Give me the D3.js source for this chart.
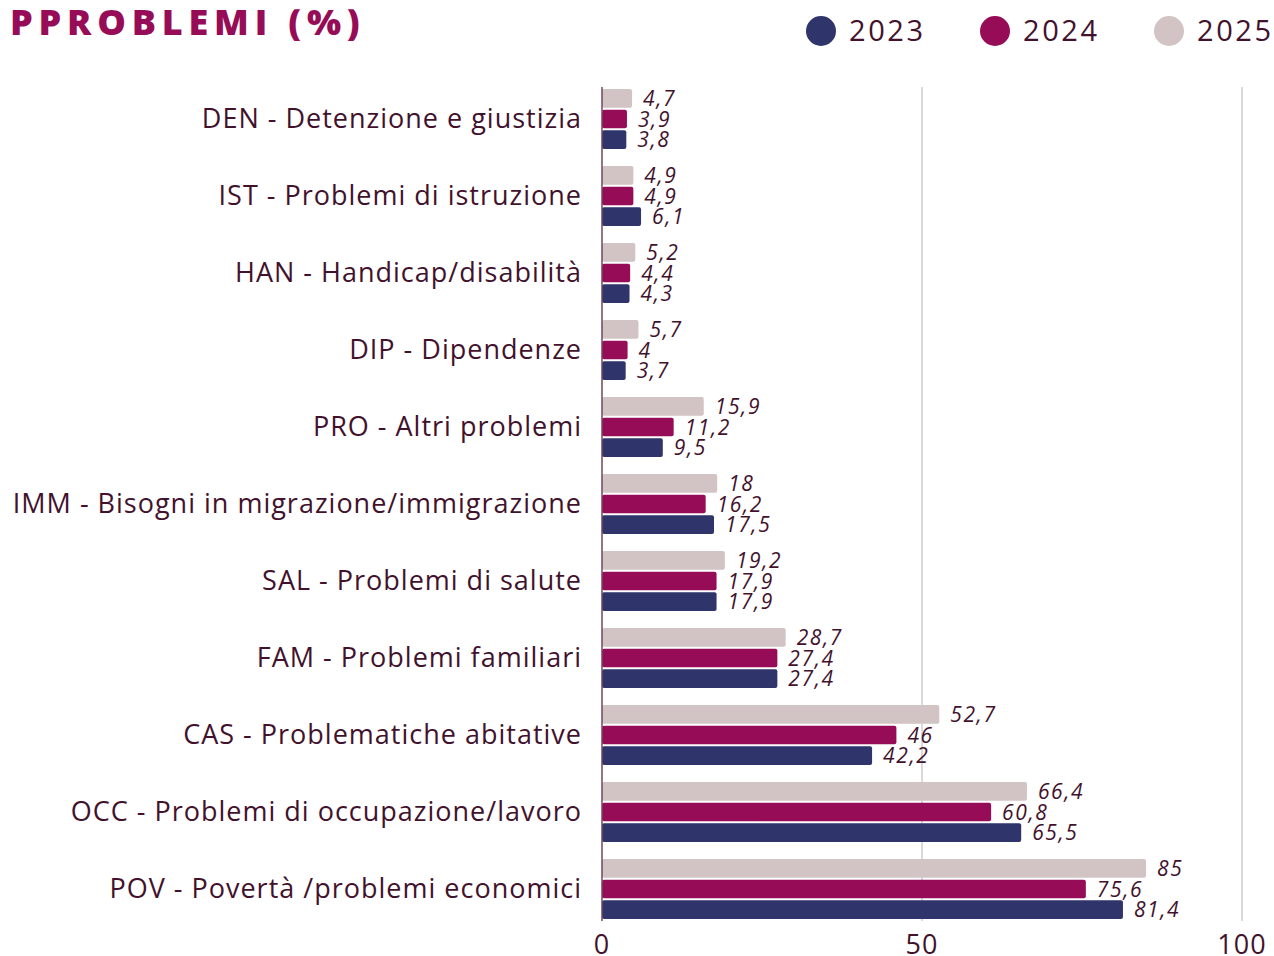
<!DOCTYPE html>
<html>
<head>
<meta charset="utf-8">
<script src="https://cdn.jsdelivr.net/npm/d3@7"></script>
<style>
  body { margin: 0; background: #fff; }
  svg { display: block; font-family: "Open Sans", sans-serif; }
</style>
</head>
<body>
<div id="chart"></div>
<script>
// Categories from top to bottom
const categories = [
  "DEN - Detenzione e giustizia",
  "IST - Problemi di istruzione",
  "HAN - Handicap/disabilità",
  "DIP - Dipendenze",
  "PRO - Altri problemi",
  "IMM - Bisogni in migrazione/immigrazione",
  "SAL - Problemi di salute",
  "FAM - Problemi familiari",
  "CAS - Problematiche abitative",
  "OCC - Problemi di occupazione/lavoro",
  "POV - Povertà /problemi economici"
];
const years = ["2023", "2024", "2025"];
const values2023 = [3.8, 6.1, 4.3, 3.7, 9.5, 17.5, 17.9, 27.4, 42.2, 65.5, 81.4];
const values2024 = [3.9, 4.9, 4.4, 4, 11.2, 16.2, 17.9, 27.4, 46, 60.8, 75.6];
const values2025 = [4.7, 4.9, 5.2, 5.7, 15.9, 18, 19.2, 28.7, 52.7, 66.4, 85];
const xTicks = [0, 50, 100];

const colors = { "2023": "#2f356b", "2024": "#970c57", "2025": "#d2c4c4" };
const textColor = "#42122d";

const width = 1274, height = 956;
const svg = d3.select("#chart").append("svg")
  .attr("width", width).attr("height", height);

const x = d3.scaleLinear().domain([0, 100]).range([602, 1242]);
const y = d3.scaleBand().domain(categories).range([87, 921])
  .paddingInner(0.169).paddingOuter(0);
const ySub = d3.scaleBand().domain(["2025", "2024", "2023"])
  .range([0, y.bandwidth()]).padding(0.1);

const seriesByYear = { "2023": values2023, "2024": values2024, "2025": values2025 };
const rows = [];
categories.forEach((c, i) => {
  years.forEach(yr => rows.push({ cat: c, year: yr, value: seriesByYear[yr][i] }));
});

// gridlines
svg.append("g").selectAll("line")
  .data(xTicks.filter(t => t > 0))
  .enter().append("line")
  .attr("x1", d => x(d)).attr("x2", d => x(d))
  .attr("y1", 87).attr("y2", 921)
  .attr("stroke", "#d0cbcd").attr("stroke-width", 1.5);

// bars
svg.append("g").selectAll("rect")
  .data(rows)
  .enter().append("rect")
  .attr("x", x(0))
  .attr("y", d => y(d.cat) + ySub(d.year))
  .attr("width", d => x(d.value) - x(0))
  .attr("height", ySub.bandwidth())
  .attr("rx", 2)
  .attr("fill", d => colors[d.year]);

// axis line at 0
svg.append("line")
  .attr("x1", x(0)).attr("x2", x(0))
  .attr("y1", 87).attr("y2", 921)
  .attr("stroke", "#6b4a5a").attr("stroke-width", 1.5);

// value labels
svg.append("g").selectAll("text")
  .data(rows)
  .enter().append("text")
  .attr("x", d => x(d.value) + 11)
  .attr("y", d => y(d.cat) + ySub(d.year) + ySub.bandwidth() / 2)
  .attr("dy", "0.36em")
  .attr("font-size", 21)
  .attr("letter-spacing", 1.6)
  .attr("font-style", "italic")
  .attr("fill", textColor)
  .text(d => String(d.value).replace(".", ","));

// category labels
svg.append("g").selectAll("text")
  .data(categories)
  .enter().append("text")
  .attr("x", 582)
  .attr("y", d => y(d) + y.bandwidth() / 2)
  .attr("dy", "0.35em")
  .attr("text-anchor", "end")
  .attr("font-size", 27)
  .attr("letter-spacing", 1)
  .attr("fill", textColor)
  .text(d => d);

// x tick labels
svg.append("g").selectAll("text")
  .data(xTicks)
  .enter().append("text")
  .attr("x", d => x(d))
  .attr("y", 954)
  .attr("text-anchor", "middle")
  .attr("font-size", 27)
  .attr("letter-spacing", 1)
  .attr("fill", textColor)
  .text(d => d);

// title
svg.append("text")
  .attr("x", 10).attr("y", 35)
  .attr("font-size", 36)
  .attr("font-weight", 800)
  .attr("letter-spacing", 5.8)
  .attr("fill", "#970c57")
  .text("PPROBLEMI (%)");

// legend
const legendX = { "2023": 821, "2024": 995, "2025": 1169 };
const legend = svg.append("g").selectAll("g")
  .data(years)
  .enter().append("g")
  .attr("transform", d => "translate(" + legendX[d] + ",31)");
legend.append("circle").attr("r", 15).attr("fill", d => colors[d]);
legend.append("text")
  .attr("x", 28).attr("dy", "0.35em")
  .attr("font-size", 29)
  .attr("letter-spacing", 2.6)
  .attr("fill", textColor)
  .text(d => d);
</script>
</body>
</html>
